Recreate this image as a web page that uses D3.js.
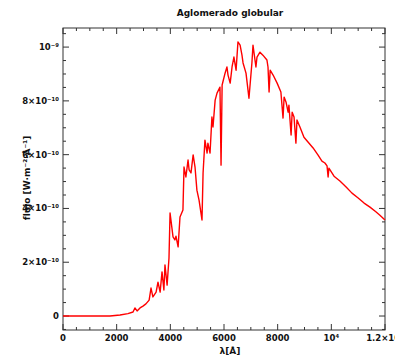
<!DOCTYPE html>
<html lang="es">
<head>
    <meta charset="UTF-8">
    <title>Aglomerado globular</title>
    <script src="https://d3js.org/d3.v7.min.js"></script>
    <style>
        body {
            margin: 0;
            background: #fff;
            font-family: "DejaVu Sans", sans-serif;
        }
        svg {
            display: block;
        }
        .lbl {
            font-weight: bold;
            fill: #111;
        }
    </style>
</head>
<body>

<div id="container"></div>

<script>
// wavelength in Angstrom
const wavelength = [0, 1750, 2125, 2420, 2610, 2680, 2760, 2870, 2980, 3090,
    3210, 3280, 3350, 3470, 3540, 3620, 3690, 3760, 3800, 3880,
    3950, 3990, 4100, 4170, 4210, 4290, 4360, 4470, 4510, 4580,
    4660, 4700, 4770, 4850, 4920, 4990, 5070, 5180, 5220, 5290,
    5370, 5400, 5480, 5550, 5590, 5670, 5740, 5850, 5890, 5930,
    6040, 6110, 6150, 6230, 6300, 6370, 6450, 6520, 6600, 6670,
    6710, 6820, 6930, 7040, 7080, 7190, 7230, 7340, 7450, 7600,
    7640, 7680, 7720, 7830, 7980, 8120, 8200, 8240, 8310, 8390,
    8420, 8500, 8540, 8610, 8680, 8720, 8830, 8980, 9130, 9320,
    9500, 9650, 9760, 9840, 9880, 9910, 10100, 10320, 10550, 10770,
    11000, 11220, 11440, 11670, 11810, 12000];

// flux in units of 1e-10 W m^-2 A^-1
const flux_e10 = [0, 0, 0.04, 0.09, 0.15, 0.30, 0.19, 0.30, 0.37, 0.45,
    0.59, 1.04, 0.71, 0.89, 1.26, 0.89, 1.64, 0.97, 1.90, 1.15,
    2.16, 3.83, 2.94, 2.83, 2.97, 2.57, 3.68, 3.94, 5.54, 5.17,
    5.80, 5.43, 5.32, 5.99, 5.54, 4.68, 4.31, 3.57, 5.32, 6.54,
    6.06, 6.43, 6.06, 7.40, 7.03, 8.03, 8.29, 8.51, 5.61, 8.59,
    9.03, 9.26, 8.96, 8.66, 9.26, 9.63, 9.14, 10.19, 10.07, 9.70,
    9.41, 9.03, 8.10, 9.41, 10.07, 9.26, 9.63, 9.81, 9.70, 9.52,
    9.26, 8.33, 9.14, 8.96, 8.66, 8.33, 7.36, 8.14, 7.96, 7.58,
    7.84, 6.73, 7.58, 7.40, 6.43, 7.29, 7.03, 6.65, 6.47, 6.25,
    5.99, 5.76, 5.69, 5.58, 5.17, 5.50, 5.20, 5.02, 4.80, 4.57,
    4.39, 4.20, 4.05, 3.87, 3.75, 3.57];

const xTicks = [0, 2000, 4000, 6000, 8000, 10000, 12000];
const xTickLabels = ["0", "2000", "4000", "6000", "8000", "10⁴", "1.2×10⁴"];
const yTicks = [0, 2, 4, 6, 8, 10];
const yTickLabels = ["0", "2×10⁻¹⁰", "4×10⁻¹⁰", "6×10⁻¹⁰", "8×10⁻¹⁰", "10⁻⁹"];

const width = 395, height = 358;
const plotLeft = 63, plotRight = 385, plotTop = 28, plotBottom = 330;

const svg = d3.select('#container').append('svg')
    .attr('width', width)
    .attr('height', height);

const x = d3.scaleLinear().domain([0, 12000]).range([plotLeft, plotRight]);
const y = d3.scaleLinear().domain([-0.52, 10.71]).range([plotBottom, plotTop]);

const xMinor = d3.range(0, 12001, 500);
const yMinor = d3.range(-0.5, 10.71, 0.5);

// frame
svg.append('rect')
    .attr('x', plotLeft).attr('y', plotTop)
    .attr('width', plotRight - plotLeft).attr('height', plotBottom - plotTop)
    .attr('fill', 'none')
    .attr('stroke', '#333')
    .attr('stroke-width', 1);

// ticks on all four sides, pointing inward
function tickLen(isMajor) { return isMajor ? 6 : 3; }

xMinor.forEach(v => {
    const major = v % 2000 === 0;
    const px = x(v);
    svg.append('line').attr('x1', px).attr('x2', px)
        .attr('y1', plotBottom).attr('y2', plotBottom - tickLen(major))
        .attr('stroke', '#333');
    svg.append('line').attr('x1', px).attr('x2', px)
        .attr('y1', plotTop).attr('y2', plotTop + tickLen(major))
        .attr('stroke', '#333');
});

yMinor.forEach(v => {
    const major = Math.abs(v % 2) < 1e-6 && v >= 0;
    const py = y(v);
    svg.append('line').attr('x1', plotLeft).attr('x2', plotLeft + tickLen(major))
        .attr('y1', py).attr('y2', py)
        .attr('stroke', '#333');
    svg.append('line').attr('x1', plotRight).attr('x2', plotRight - tickLen(major))
        .attr('y1', py).attr('y2', py)
        .attr('stroke', '#333');
});

// tick labels
svg.selectAll('.xlab')
    .data(xTicks)
    .enter()
    .append('text')
    .attr('class', 'lbl')
    .attr('x', d => x(d))
    .attr('y', 341)
    .attr('text-anchor', 'middle')
    .attr('font-size', 8.5)
    .text((d, i) => xTickLabels[i]);

svg.selectAll('.ylab')
    .data(yTicks)
    .enter()
    .append('text')
    .attr('class', 'lbl')
    .attr('x', 59)
    .attr('y', d => y(d) + 3)
    .attr('text-anchor', 'end')
    .attr('font-size', 8.5)
    .text((d, i) => yTickLabels[i]);

// spectrum
const line = d3.line()
    .x((d, i) => x(wavelength[i]))
    .y(d => y(d));

svg.append('path')
    .datum(flux_e10)
    .attr('d', line)
    .attr('fill', 'none')
    .attr('stroke', '#f00')
    .attr('stroke-width', 1.4)
    .attr('stroke-linejoin', 'round');

// titles
svg.append('text')
    .attr('class', 'lbl')
    .attr('x', 230).attr('y', 16)
    .attr('text-anchor', 'middle')
    .attr('font-size', 9)
    .text('Aglomerado globular');

svg.append('text')
    .attr('class', 'lbl')
    .attr('x', 230).attr('y', 354)
    .attr('text-anchor', 'middle')
    .attr('font-size', 9)
    .text('λ[Å]');

svg.append('text')
    .attr('class', 'lbl')
    .attr('transform', 'translate(30,178) rotate(-90)')
    .attr('text-anchor', 'middle')
    .attr('font-size', 9)
    .text('flujo [W·m⁻²·Å⁻¹]');
</script>
</body>
</html>
